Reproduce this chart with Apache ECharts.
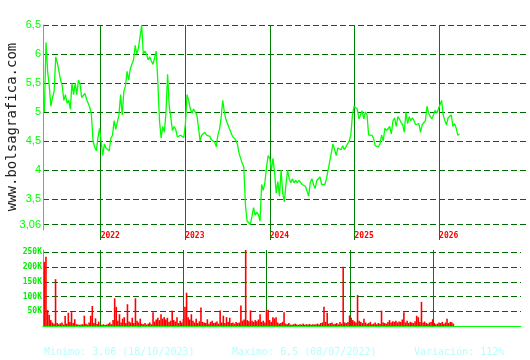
<!DOCTYPE html>
<html>
<head>
<meta charset="utf-8">
<script src="https://cdn.jsdelivr.net/npm/echarts@6/dist/echarts.min.js"></script>
<style>html,body{margin:0;padding:0;background:#fff}#c{width:530px;height:360px}</style>
</head>
<body>
<div id="c"></div>
<script>
// ---- data (weekly samples) ----
const firstWeek = [2021, 4, 3];          // 2021-05-03
const axisStart = [2021, 3, 27];
const axisEnd = [2027, 0, 20];
const yearTicks = [2022, 2023, 2024, 2025, 2026];
const priceTicks = [3.06, 3.5, 4, 4.5, 5, 5.5, 6, 6.5];
const volumeTicks = [50000, 100000, 150000, 200000, 250000];

const price = [
 5.0, 6.2, 5.7, 5.45, 5.1, 5.25, 5.35, 5.95, 5.85, 5.7,
 5.55, 5.45, 5.2, 5.3, 5.15, 5.2, 5.05, 5.5, 5.3, 5.5,
 5.3, 5.55, 5.48, 5.25, 5.22, 5.32, 5.22, 5.15, 5.08, 4.95,
 4.5, 4.4, 4.33, 4.55, 4.72, 4.5, 4.25, 4.45, 4.38, 4.38,
 4.33, 4.55, 4.6, 4.85, 4.7, 4.68, 4.95, 5.3, 4.95, 5.35,
 5.45, 5.7, 5.55, 5.75, 5.75, 5.9, 6.15, 6.0, 6.1, 6.3,
 6.5, 6.0, 6.05, 6.0, 5.9, 5.95, 5.88, 5.82, 5.85, 6.05,
 5.5, 4.85, 4.55, 4.75, 4.65, 5.0, 5.65, 5.1, 4.9, 4.68,
 4.75, 4.7, 4.57, 4.55, 4.6, 4.62, 4.56, 4.8, 5.3, 5.2,
 5.05, 4.98, 5.05, 5.02, 4.95, 4.75, 4.5, 4.6, 4.58, 4.65,
 4.6, 4.62, 4.58, 4.52, 4.5, 4.48, 4.4, 4.6, 4.7, 4.9,
 5.2, 5.0, 4.87, 4.85, 4.72, 4.65, 4.58, 4.6, 4.52, 4.45,
 4.3, 4.2, 4.12, 4.05, 3.4, 3.12, 3.15, 3.06, 3.2, 3.35,
 3.22, 3.27, 3.23, 3.12, 3.75, 3.65, 3.78, 4.05, 4.25, 4.2,
 4.0, 4.2, 3.95, 3.6, 3.8, 3.55, 4.0, 3.6, 3.45, 3.75,
 4.0, 3.85, 3.78, 3.85, 3.78, 3.82, 3.78, 3.82, 3.8, 3.75,
 3.76, 3.72, 3.7, 3.55, 3.78, 3.85, 3.75, 3.68, 3.82, 3.8,
 3.88, 3.75, 3.72, 3.75, 3.85, 4.0, 4.15, 4.3, 4.45, 4.35,
 4.25, 4.38, 4.4, 4.35, 4.42, 4.35, 4.38, 4.45, 4.5, 4.6,
 4.95, 5.1, 5.1, 5.05, 4.88, 4.95, 5.02, 4.88, 5.0, 4.95,
 4.6, 4.58, 4.6, 4.55, 4.42, 4.45, 4.4, 4.45, 4.6, 4.5,
 4.72, 4.68, 4.65, 4.75, 4.62, 4.85, 4.9, 4.75, 4.92, 4.88,
 4.82, 4.78, 4.65, 5.0, 4.8, 4.92, 4.85, 4.9, 4.85, 4.78,
 4.75, 4.8, 4.65, 4.78, 4.8, 4.85, 5.1, 4.98, 4.92, 4.88,
 4.95, 5.03, 4.98, 5.05, 5.08, 5.2, 4.95, 4.85, 4.78, 4.9,
 4.88, 4.95, 4.75, 4.8, 4.72, 4.6, 4.62
];

// volume in thousands
const volumeK = [
 218,235,54,37,20,12,8,159,10,6,
 9,12,5,34,8,45,14,47,10,23,
 6,5,4,5,6,35,8,5,12,35,
 68,10,26,7,15,5,4,6,3,5,
 8,12,6,20,94,65,18,40,12,25,
 30,10,74,15,12,28,10,94,18,12,
 25,8,6,10,5,8,12,6,47,15,
 22,28,20,40,25,30,22,28,14,18,
 52,20,15,30,10,18,12,24,65,113,
 30,22,40,18,12,25,10,16,63,14,
 12,10,23,8,14,18,10,12,15,8,
 53,12,35,10,30,14,28,10,12,8,
 14,10,12,70,18,22,258,20,16,53,
 18,14,20,16,22,40,14,18,12,53,
 55,20,14,30,26,30,12,8,10,14,
 47,8,6,10,5,4,6,8,5,4,
 6,5,8,4,6,5,7,4,6,5,
 6,8,5,10,12,65,14,45,8,10,
 12,6,8,10,6,14,8,201,12,10,
 14,36,28,20,16,12,105,18,14,10,
 25,12,8,10,14,6,8,12,6,10,
 8,52,12,10,8,14,20,12,16,14,
 18,12,15,14,22,47,12,18,10,14,
 12,10,16,35,30,14,82,12,15,10,
 8,12,14,23,10,6,8,12,10,14,
 8,12,25,10,14,13,8
];

// ---- build ----
const DAY = 86400000;
const t0 = new Date(firstWeek[0], firstWeek[1], firstWeek[2]).getTime();
const dates = price.map((_, i) => t0 + i * 7 * DAY);
const xMin = new Date(axisStart[0], axisStart[1], axisStart[2]).getTime();
const xMax = new Date(axisEnd[0], axisEnd[1], axisEnd[2]).getTime();
const yearTs = yearTicks.map(y => new Date(y, 0, 1).getTime());

const GREEN = '#00ff00';
const GRID_DASH = '#006600';
const YEAR_LINE = '#008000';

const chart = echarts.init(document.getElementById('c'), null, {renderer: 'canvas'});
chart.setOption({
  animation: false,
  backgroundColor: '#ffffff',
  grid: [
    {left: 43, right: 2, top: 25, height: 205},
    {left: 43, right: 2, top: 25, height: 215},
    {left: 43, right: 9, top: 250, height: 76}
  ],
  xAxis: [
    {gridIndex: 0, type: 'value', min: xMin, max: xMax, show: false},
    {gridIndex: 1, type: 'value', min: xMin, max: xMax,
      axisLine: {show: false},
      axisTick: {show: false, customValues: yearTs},
      axisLabel: {show: true, inside: true, customValues: yearTs, margin: 0,
        align: 'left', color: '#ff0000', fontSize: 8, fontWeight: 'bold',
        fontFamily: 'DejaVu Sans Mono',
        formatter: v => String(new Date(v).getFullYear())},
      splitLine: {show: true, lineStyle: {color: YEAR_LINE, width: 1, type: 'solid'}}
    },
    {gridIndex: 2, type: 'value', min: xMin, max: xMax,
      axisLine: {show: true, onZero: false, lineStyle: {color: GREEN, width: 1}},
      axisTick: {show: false, customValues: yearTs},
      axisLabel: {show: false},
      splitLine: {show: true, lineStyle: {color: YEAR_LINE, width: 1, type: 'solid'}}
    }
  ],
  yAxis: [
    {gridIndex: 0, type: 'value', min: 6.5 - 205 / 58, max: 6.5,
      axisLine: {show: true, lineStyle: {color: GREEN, width: 1}},
      axisTick: {show: false, customValues: priceTicks},
      axisLabel: {customValues: priceTicks, color: GREEN, fontSize: 11,
        fontFamily: 'Liberation Sans', margin: 2,
        formatter: v => String(v).replace('.', ',')},
      splitLine: {show: true, lineStyle: {color: GRID_DASH, width: 1, type: [6, 3]}}
    },
    {gridIndex: 1, type: 'value', min: 0, max: 1, show: false},
    {gridIndex: 2, type: 'value', min: 0, max: 258000,
      axisLine: {show: true, lineStyle: {color: GREEN, width: 1}},
      axisTick: {show: false, customValues: volumeTicks},
      axisLabel: {customValues: volumeTicks, color: '#00ee00', fontSize: 8,
        fontWeight: 'bold', fontFamily: 'DejaVu Sans Mono', margin: 1,
        formatter: v => (v / 1000) + 'K'},
      splitLine: {show: true, lineStyle: {color: GRID_DASH, width: 1, type: [6, 3]}}
    }
  ],
  series: [
    {type: 'line', xAxisIndex: 1, yAxisIndex: 1, data: [], silent: true},
    {type: 'line', xAxisIndex: 0, yAxisIndex: 0, z: 5,
      data: dates.map((d, i) => [d, price[i]]),
      showSymbol: false, symbol: 'none',
      lineStyle: {color: GREEN, width: 1.3}},
    {type: 'bar', xAxisIndex: 2, yAxisIndex: 2, z: 5,
      data: dates.map((d, i) => [d, volumeK[i] * 1000]),
      barWidth: 1.6, itemStyle: {color: '#ff0000'}}
  ],
  graphic: [
    {type: 'text', x: 12, y: 127, rotation: Math.PI / 2,
      style: {text: 'www.bolsagrafica.com', font: '14px "DejaVu Sans Mono"',
        fill: '#222222', align: 'center', verticalAlign: 'middle'}},
    {type: 'text', x: 44, y: 352,
      style: {text: 'Minimo: 3,06 (18/10/2023)', font: '10px "DejaVu Sans Mono"',
        fill: '#b4ffff', verticalAlign: 'middle'}},
    {type: 'text', x: 232, y: 352,
      style: {text: 'Maximo: 6,5 (08/07/2022)', font: '10px "DejaVu Sans Mono"',
        fill: '#b4ffff', verticalAlign: 'middle'}},
    {type: 'text', x: 414, y: 352,
      style: {text: 'Variación: 112%', font: '10px "DejaVu Sans Mono"',
        fill: '#b4ffff', verticalAlign: 'middle'}}
  ]
});
</script>
</body>
</html>
